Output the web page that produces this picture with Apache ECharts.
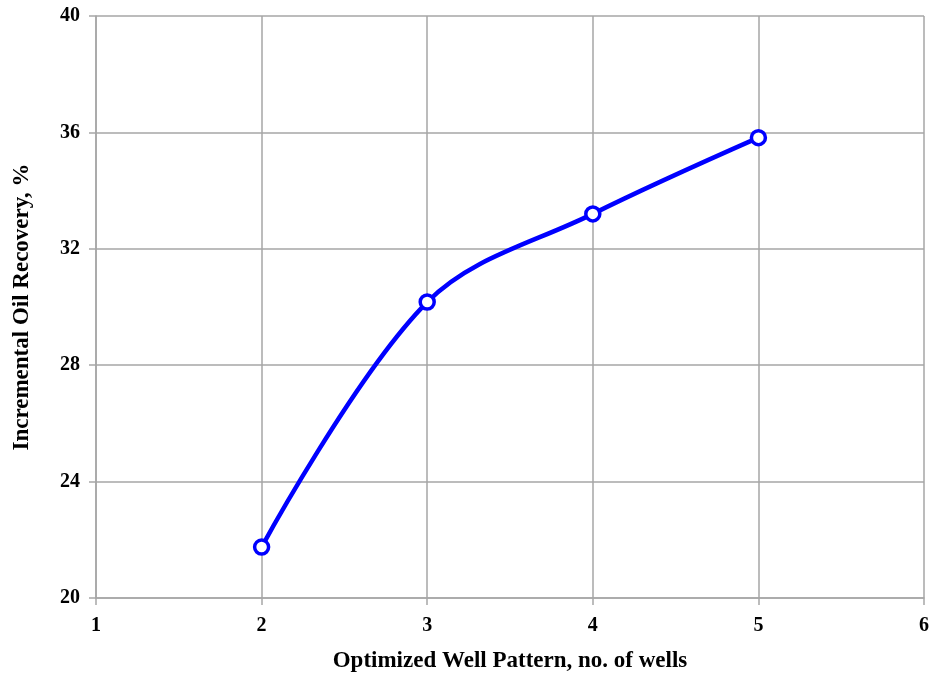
<!DOCTYPE html>
<html>
<head>
<meta charset="utf-8">
<script src="https://cdn.jsdelivr.net/npm/echarts@6/dist/echarts.min.js"></script>
<style>
  html, body { margin: 0; padding: 0; background: #fff; }
  #chart { width: 932px; height: 684px; }
</style>
</head>
<body>
<div id="chart"></div>
<script>
// Well count on the x axis, recovery (%) on the y axis
const wellCounts = [2, 3, 4, 5];
const recoveryPct = [21.75, 30.17, 33.2, 35.82];
const xTicks = [1, 2, 3, 4, 5, 6];
const yTicks = [20, 24, 28, 32, 36, 40];

const chart = echarts.init(document.getElementById('chart'));
const gridGray = '#a6a6a6';
const font = 'Liberation Serif';

chart.setOption({
  animation: false,
  grid: { left: 96, right: 8, top: 16, bottom: 86 },
  xAxis: {
    type: 'value',
    min: xTicks[0], max: xTicks[xTicks.length - 1], interval: 1,
    name: 'Optimized Well Pattern, no. of wells',
    nameLocation: 'middle', nameGap: 52,
    nameTextStyle: { fontFamily: font, fontWeight: 'bold', fontSize: 23, color: '#000' },
    axisLine: { show: true, lineStyle: { color: gridGray, width: 1.5 } },
    axisTick: { show: true, length: 7, lineStyle: { color: gridGray, width: 1.5 } },
    axisLabel: { fontFamily: font, fontWeight: 'bold', fontSize: 20, color: '#000', margin: 18 },
    splitLine: { show: true, lineStyle: { color: gridGray, width: 1.5 } }
  },
  yAxis: {
    type: 'value',
    min: yTicks[0], max: yTicks[yTicks.length - 1], interval: 4,
    name: 'Incremental Oil Recovery, %',
    nameLocation: 'middle', nameGap: 62,
    nameTextStyle: { fontFamily: font, fontWeight: 'bold', fontSize: 23, color: '#000' },
    axisLine: { show: true, lineStyle: { color: gridGray, width: 1.5 } },
    axisTick: { show: true, length: 7, lineStyle: { color: gridGray, width: 1.5 } },
    axisLabel: { fontFamily: font, fontWeight: 'bold', fontSize: 20, color: '#000', margin: 16 },
    splitLine: { show: true, lineStyle: { color: gridGray, width: 1.5 } }
  },
  series: [{
    type: 'line',
    data: wellCounts.map((w, i) => [w, recoveryPct[i]]),
    smooth: 0.35,
    symbol: 'circle',
    symbolSize: 14,
    showAllSymbol: true,
    lineStyle: { color: '#0000ff', width: 4.5 },
    itemStyle: { color: '#ffffff', borderColor: '#0000ff', borderWidth: 3.5 }
  }]
});
</script>
</body>
</html>
